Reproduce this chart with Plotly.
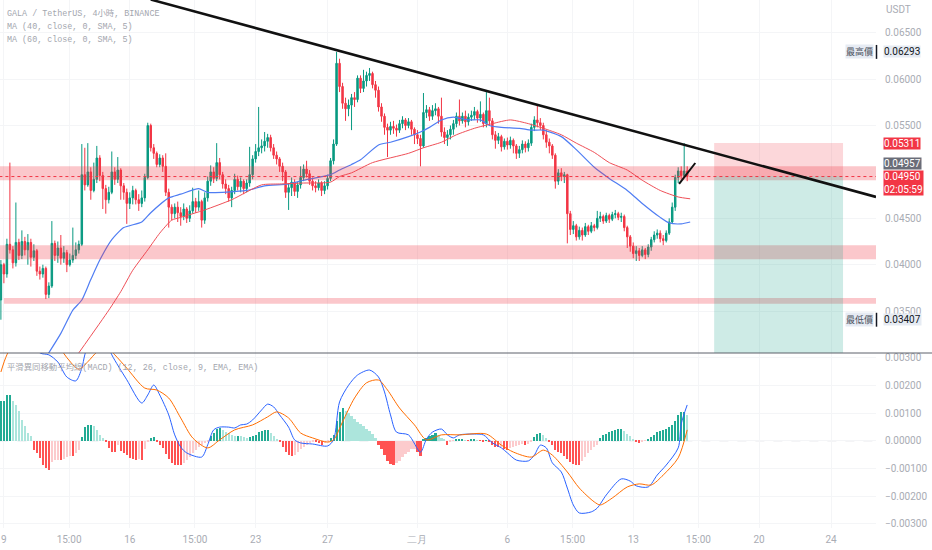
import pandas as pd
import plotly.graph_objects as go
from plotly.subplots import make_subplots

# ---- GALA/USDT 4h candles, Jan 8 20:00 -> Feb 16 00:00 ----
first_open = 0.0362
close = [
    0.0400, 0.0390, 0.0422, 0.0416, 0.0402, 0.0424, 0.0410, 0.0425, 0.0416, 0.0424,
    0.0408, 0.0415, 0.0393, 0.0390, 0.0396, 0.0368, 0.0377, 0.0423, 0.0410, 0.0418,
    0.0407, 0.0413, 0.0400, 0.0405, 0.0410, 0.0416, 0.0422, 0.0497, 0.0486, 0.0500,
    0.0480, 0.0492, 0.0515, 0.0496, 0.0482, 0.0470, 0.0478, 0.0500, 0.0492, 0.0502,
    0.0485, 0.0478, 0.0466, 0.0472, 0.0480, 0.0470, 0.0466, 0.0472, 0.0494, 0.0550,
    0.0526, 0.0520, 0.0508, 0.0515, 0.0506, 0.0478, 0.0462, 0.0455, 0.0462, 0.0456,
    0.0452, 0.0460, 0.0450, 0.0458, 0.0468, 0.0462, 0.0468, 0.0448, 0.0472, 0.0490,
    0.0500, 0.0493, 0.0510, 0.0497, 0.0487, 0.0482, 0.0472, 0.0480, 0.0492, 0.0484,
    0.0490, 0.0482, 0.0488, 0.0497, 0.0514, 0.0522, 0.0526, 0.0528, 0.0533, 0.0537,
    0.0526, 0.0518, 0.0514, 0.0506, 0.0500, 0.0478, 0.0483, 0.0489, 0.0479, 0.0486,
    0.0494, 0.0503, 0.0498, 0.0490, 0.0485, 0.0483, 0.0488, 0.0480, 0.0485, 0.0493,
    0.0512, 0.0530, 0.0617, 0.0592, 0.0574, 0.0568, 0.0572, 0.0580, 0.0578, 0.0601,
    0.0590, 0.0598, 0.0604, 0.0606, 0.0594, 0.0588, 0.0570, 0.0560, 0.0548, 0.0545,
    0.0549, 0.0547, 0.0545, 0.0552, 0.0556, 0.0550, 0.0554, 0.0546, 0.0540, 0.0536,
    0.0528, 0.0564, 0.0567, 0.0560, 0.0566, 0.0568, 0.0560, 0.0543, 0.0537, 0.0540,
    0.0546, 0.0552, 0.0560, 0.0555, 0.0560, 0.0554, 0.0559, 0.0561, 0.0565, 0.0558,
    0.0562, 0.0552, 0.0566, 0.0555, 0.0540, 0.0534, 0.0538, 0.0527, 0.0533, 0.0529,
    0.0534, 0.0528, 0.0520, 0.0524, 0.0530, 0.0526, 0.0531, 0.0548, 0.0556, 0.0553,
    0.0550, 0.0540, 0.0532, 0.0528, 0.0518, 0.0490, 0.0499, 0.0495, 0.0497, 0.0455,
    0.0438, 0.0442, 0.0430, 0.0437, 0.0432, 0.0441, 0.0436, 0.0442, 0.0440, 0.0450,
    0.0452, 0.0447, 0.0453, 0.0449, 0.0454, 0.0455, 0.0451, 0.0452, 0.0440, 0.0430,
    0.0420, 0.0412, 0.0415, 0.0410, 0.0416, 0.0411, 0.0419, 0.0427, 0.0432, 0.0434,
    0.0428, 0.0426, 0.0434, 0.0446, 0.0462, 0.0494, 0.0501, 0.0496, 0.0501, 0.0495,
]
high = [
    0.0405, 0.0402, 0.0428, 0.0510, 0.0420, 0.0467, 0.0428, 0.0437, 0.0430, 0.0433,
    0.0428, 0.0422, 0.0417, 0.0398, 0.0400, 0.0398, 0.0381, 0.0447, 0.0426, 0.0425,
    0.0432, 0.0420, 0.0416, 0.0412, 0.0440, 0.0424, 0.0426, 0.0530, 0.0526, 0.0531,
    0.0505, 0.0510, 0.0528, 0.0518, 0.0500, 0.0486, 0.0484, 0.0522, 0.0505, 0.0516,
    0.0504, 0.0488, 0.0482, 0.0478, 0.0485, 0.0482, 0.0476, 0.0480, 0.0498, 0.0553,
    0.0552, 0.0530, 0.0522, 0.0519, 0.0518, 0.0520, 0.0482, 0.0465, 0.0466, 0.0468,
    0.0462, 0.0466, 0.0462, 0.0464, 0.0483, 0.0472, 0.0480, 0.0470, 0.0478, 0.0495,
    0.0507, 0.0505, 0.0531, 0.0515, 0.0500, 0.0492, 0.0486, 0.0484, 0.0498, 0.0496,
    0.0494, 0.0492, 0.0492, 0.0527, 0.0518, 0.0530, 0.0570, 0.0535, 0.0543, 0.0541,
    0.0540, 0.0530, 0.0522, 0.0516, 0.0510, 0.0502, 0.0488, 0.0494, 0.0492, 0.0489,
    0.0506, 0.0508, 0.0512, 0.0502, 0.0494, 0.0490, 0.0492, 0.0490, 0.0490, 0.0497,
    0.0515, 0.0535, 0.06293, 0.0622, 0.0596, 0.0580, 0.0578, 0.0584, 0.0586, 0.0604,
    0.0604, 0.0610, 0.0608, 0.0612, 0.0608, 0.0598, 0.0592, 0.0574, 0.0563, 0.0552,
    0.0554, 0.0555, 0.0551, 0.0556, 0.0560, 0.0558, 0.0558, 0.0556, 0.0548, 0.0545,
    0.0540, 0.0585, 0.0572, 0.0570, 0.0572, 0.0574, 0.0570, 0.0580, 0.0548, 0.0545,
    0.0550, 0.0556, 0.0564, 0.0578, 0.0564, 0.0566, 0.0563, 0.0566, 0.0570, 0.0567,
    0.0576, 0.0564, 0.0586, 0.0580, 0.0558, 0.0544, 0.0542, 0.0540, 0.0536, 0.0537,
    0.0538, 0.0536, 0.0530, 0.0528, 0.0534, 0.0533, 0.0535, 0.0552, 0.0560, 0.0572,
    0.0558, 0.0553, 0.0545, 0.0536, 0.0530, 0.0520, 0.0503, 0.0504, 0.0500, 0.0498,
    0.0458, 0.0447, 0.0444, 0.0441, 0.0440, 0.0445, 0.0443, 0.0446, 0.0444, 0.0458,
    0.0457, 0.0454, 0.0456, 0.0455, 0.0457, 0.0459, 0.0457, 0.0456, 0.0454, 0.0442,
    0.0432, 0.0424, 0.0420, 0.0418, 0.0420, 0.0418, 0.0422, 0.0430, 0.0436, 0.0438,
    0.0437, 0.0432, 0.0437, 0.0450, 0.0467, 0.0497, 0.0505, 0.0506, 0.0531, 0.0506,
]
low = [
    0.03407, 0.0380, 0.0386, 0.0412, 0.0396, 0.0398, 0.0405, 0.0406, 0.0410, 0.0400,
    0.0398, 0.0404, 0.0388, 0.0384, 0.0386, 0.0363, 0.0364, 0.0375, 0.0404, 0.0402,
    0.0400, 0.0402, 0.0392, 0.0398, 0.0402, 0.0406, 0.0412, 0.0420, 0.0480, 0.0484,
    0.0470, 0.0478, 0.0488, 0.0490, 0.0460, 0.0455, 0.0466, 0.0476, 0.0486, 0.0488,
    0.0470, 0.0470, 0.0444, 0.0460, 0.0465, 0.0465, 0.0458, 0.0462, 0.0468, 0.0492,
    0.0522, 0.0514, 0.0505, 0.0505, 0.0500, 0.0474, 0.0440, 0.0448, 0.0450, 0.0446,
    0.0442, 0.0448, 0.0445, 0.0446, 0.0455, 0.0456, 0.0458, 0.0440, 0.0444, 0.0468,
    0.0485, 0.0488, 0.0490, 0.0492, 0.0482, 0.0476, 0.0468, 0.0462, 0.0476, 0.0480,
    0.0478, 0.0476, 0.0478, 0.0484, 0.0492, 0.0510, 0.0517, 0.0520, 0.0522, 0.0526,
    0.0522, 0.0514, 0.0508, 0.0500, 0.0490, 0.0472, 0.0459, 0.0474, 0.0474, 0.0472,
    0.0482, 0.0490, 0.0494, 0.0486, 0.0480, 0.0478, 0.0480, 0.0474, 0.0476, 0.0481,
    0.0490, 0.0508, 0.0528, 0.0586, 0.0568, 0.0555, 0.0560, 0.0545, 0.0570, 0.0575,
    0.0585, 0.0586, 0.0592, 0.0598, 0.0590, 0.0580, 0.0565, 0.0554, 0.0540, 0.0516,
    0.0540, 0.0541, 0.0538, 0.0542, 0.0547, 0.0545, 0.0547, 0.0540, 0.0530, 0.0530,
    0.0506, 0.0526, 0.0558, 0.0555, 0.0556, 0.0561, 0.0552, 0.0538, 0.0530, 0.0528,
    0.0535, 0.0540, 0.0548, 0.0550, 0.0552, 0.0548, 0.0550, 0.0555, 0.0556, 0.0553,
    0.0554, 0.0548, 0.0548, 0.0550, 0.0535, 0.0525, 0.0530, 0.0522, 0.0524, 0.0524,
    0.0525, 0.0520, 0.0514, 0.0515, 0.0520, 0.0521, 0.0522, 0.0528, 0.0544, 0.0548,
    0.0545, 0.0535, 0.0526, 0.0520, 0.0514, 0.0482, 0.0486, 0.0490, 0.0488, 0.0423,
    0.0432, 0.0433, 0.0426, 0.0427, 0.0426, 0.0430, 0.0432, 0.0434, 0.0436, 0.0438,
    0.0446, 0.0444, 0.0445, 0.0445, 0.0447, 0.0450, 0.0448, 0.0446, 0.0436, 0.0418,
    0.0414, 0.0407, 0.0404, 0.0404, 0.0408, 0.0406, 0.0408, 0.0415, 0.0424, 0.0428,
    0.0424, 0.0421, 0.0424, 0.0432, 0.0444, 0.0458, 0.0488, 0.0492, 0.0494, 0.0490,
]

# moving averages, sampled along the chart (candle index, value)
ma40_idx = [15, 20, 24, 27, 30, 33, 37, 41, 47, 50, 56, 60, 66, 69, 82, 88, 96, 101, 110, 113,
            117, 120, 126, 130, 136, 140, 143, 147, 151, 156, 160, 163, 167, 173, 177, 181,
            187, 192, 198, 203, 209, 214, 220, 223, 227, 230]
ma40_val = [0.0300, 0.0326, 0.0351, 0.0362, 0.0384, 0.0405, 0.0427, 0.0440, 0.0446, 0.0456,
            0.0472, 0.0476, 0.0482, 0.0478, 0.0480, 0.0485, 0.0487, 0.0491, 0.0497, 0.0502,
            0.0508, 0.0513, 0.0529, 0.0532, 0.0538, 0.0543, 0.0548, 0.0556, 0.0559, 0.0556,
            0.0556, 0.0550, 0.0548, 0.0547, 0.0545, 0.0545, 0.0538, 0.0524, 0.0505, 0.0493,
            0.0480, 0.0466, 0.0451, 0.0445, 0.0444, 0.0446]
ma60_idx = [26, 36, 40, 44, 49, 53, 57, 60, 68, 77, 87, 93, 101, 110, 113, 117, 124, 136,
            141, 147, 152, 158, 164, 170, 176, 181, 187, 192, 198, 203, 209, 214, 220, 226, 230]
ma60_val = [0.0305, 0.0351, 0.0371, 0.0394, 0.0416, 0.0434, 0.0448, 0.0451, 0.0459, 0.0470,
            0.0486, 0.0487, 0.0488, 0.0489, 0.0495, 0.0499, 0.0510, 0.0520, 0.0526, 0.0532,
            0.0540, 0.0547, 0.0552, 0.0556, 0.0552, 0.0547, 0.0540, 0.0531, 0.0521, 0.0510,
            0.0502, 0.0491, 0.0480, 0.0473, 0.0471]

# MACD (12, 26, 9) histogram per candle
macd_hist = [
    0.00142, 0.00142, 0.00166, 0.00166, 0.00142, 0.00130, 0.00106, 0.00076, 0.00052, 0.00028,
    0.00016, -0.00032, -0.00045, -0.00063, -0.00087, -0.00099, -0.00105, -0.00077, -0.00070, -0.00069,
    -0.00069, -0.00066, -0.00060, -0.00057, -0.00057, -0.00045, -0.00032, 0.00012, 0.00048, 0.00055,
    0.00058, 0.00052, 0.00040, 0.00022, 0.00010, -0.00005, -0.00026, -0.00039, -0.00039, -0.00017,
    -0.00036, -0.00045, -0.00051, -0.00063, -0.00065, -0.00069, -0.00066, -0.00069, -0.00030, -0.00002,
    0.00010, 0.00012, -0.00005, -0.00014, -0.00026, -0.00048, -0.00065, -0.00081, -0.00087, -0.00087,
    -0.00087, -0.00082, -0.00070, -0.00058, -0.00046, -0.00034, -0.00024, -0.00017, -0.00010, -0.00002,
    0.00016, 0.00028, 0.00043, 0.00046, 0.00039, 0.00031, 0.00026, 0.00022, 0.00018, 0.00018,
    0.00016, 0.00012, 0.00010, 0.00012, 0.00016, 0.00022, 0.00031, 0.00036, 0.00039, 0.00039,
    0.00028, 0.00017, 0.00007, -0.00005, -0.00022, -0.00039, -0.00051, -0.00057, -0.00053, -0.00041,
    -0.00031, -0.00022, -0.00014, -0.00008, -0.00005, -0.00006, -0.00010, -0.00014, -0.00010, -0.00005,
    0.00010, 0.00022, 0.00070, 0.00103, 0.00118, 0.00106, 0.00100, 0.00088, 0.00078, 0.00067,
    0.00060, 0.00052, 0.00043, 0.00034, 0.00024, 0.00010, -0.00014, -0.00029, -0.00051, -0.00075,
    -0.00084, -0.00089, -0.00082, -0.00072, -0.00060, -0.00048, -0.00039, -0.00030, -0.00029, -0.00041,
    -0.00057, 0.00003, 0.00010, 0.00017, 0.00022, 0.00026, 0.00022, 0.00010, 0.00004, -0.00014,
    -0.00005, -0.00001, 0.00004, 0.00007, 0.00007, 0.00002, -0.00001, 0.00007, 0.00007, 0.00002,
    -0.00001, -0.00005, 0.00001, -0.00005, -0.00017, -0.00023, -0.00024, -0.00022, -0.00029, -0.00032,
    -0.00026, -0.00024, -0.00020, -0.00017, -0.00012, -0.00014, -0.00012, -0.00005, 0.00012, 0.00024,
    0.00028, 0.00022, 0.00010, -0.00005, -0.00014, -0.00032, -0.00039, -0.00045, -0.00054, -0.00066,
    -0.00077, -0.00084, -0.00087, -0.00087, -0.00075, -0.00058, -0.00046, -0.00035, -0.00024, -0.00014,
    0.00010, 0.00020, 0.00025, 0.00030, 0.00036, 0.00040, 0.00042, 0.00043, 0.00034, 0.00024,
    0.00016, 0.00005, -0.00005, -0.00007, -0.00005, -0.00001, 0.00007, 0.00012, 0.00019, 0.00031,
    0.00036, 0.00040, 0.00043, 0.00048, 0.00055, 0.00072, 0.00091, 0.00103, 0.00103, 0.00094,
]
macd_idx = [0, 7, 13, 16, 19, 22, 25, 27, 28, 30, 35, 37, 42, 47, 49, 51, 53, 56, 58, 60,
            62, 67, 69, 71, 73, 76, 78, 80, 82, 84, 87, 89, 91, 93, 96, 98, 100, 104, 109, 111,
            113, 116, 119, 123, 126, 128, 130, 132, 136, 140, 142, 144, 147, 149, 151, 153, 158,
            161, 164, 167, 169, 172, 176, 178, 180, 182, 184, 187, 189, 191, 193, 197, 199, 202,
            207, 210, 212, 216, 219, 222, 226, 227, 229]
macd_val = [0.0045, 0.0040, 0.00317, 0.0031, 0.00284, 0.0023, 0.00216, 0.00262, 0.0031, 0.0037,
            0.0036, 0.0031, 0.0022, 0.00136, 0.00165, 0.00201, 0.00165, 0.00093, 0.00021, -0.00023,
            -0.00044, -0.00059, -0.00015, 0.00039, 0.00049, 0.00049, 0.00046, 0.00057, 0.00060, 0.00075,
            0.00111, 0.00132, 0.00122, 0.00093, 0.00049, 0.00003, -0.00008, -0.00012, -0.00019, 0.00003,
            0.00140, 0.00200, 0.00237, 0.00255, 0.00230, 0.00176, 0.00093, 0.00031, 0.00021, -0.00041,
            0.00006, 0.00031, 0.00042, 0.00021, 0.00010, 0.00021, 0.00024, 0.00021, -0.00008, -0.00026,
            -0.00044, -0.00070, -0.00073, -0.00052, -0.00016, -0.00026, -0.00080, -0.00113, -0.00171,
            -0.00232, -0.00261, -0.00257, -0.00243, -0.00196, -0.00138, -0.00146, -0.00163, -0.00167,
            -0.00124, -0.00088, -0.00026, 0.00060, 0.00129]
signal_idx = [0, 2, 5, 12, 18, 22, 26, 29, 32, 35, 38, 42, 48, 52, 56, 60, 64, 69, 73, 78,
              84, 89, 92, 96, 100, 104, 109, 111, 114, 118, 122, 126, 129, 133, 138, 142, 147,
              153, 162, 167, 171, 177, 181, 184, 189, 193, 198, 200, 204, 209, 213, 217, 221,
              226, 229]
signal_val = [0.00248, 0.0031, 0.0036, 0.0040, 0.0036, 0.0030, 0.00258, 0.00285, 0.0032, 0.0034,
              0.0031, 0.00262, 0.0019, 0.00183, 0.00154, 0.00082, 0.0001, -0.00026, 0.00003, 0.00039,
              0.00057, 0.00086, 0.00104, 0.00082, 0.00028, 0.0001, -0.00005, 0.00003, 0.00068, 0.00154,
              0.00209, 0.00219, 0.00183, 0.00118, 0.00057, 0.00003, 0.00021, 0.00021, 0.00024, -0.00016,
              -0.00041, -0.00059, -0.00034, -0.00052, -0.00113, -0.00171, -0.00221, -0.00232, -0.00207,
              -0.00167, -0.00156, -0.0016, -0.00124, -0.00062, 0.00039]

# drawn levels / tools
sr_bands = [(0.0491, 0.0506), (0.0406, 0.0421), (0.0358, 0.0364)]
last_price = 0.04950
entry, stop = 0.04957, 0.05311
all_high, all_low = 0.06293, 0.03407

x_ticks = ["2023-01-09", "2023-01-12 15:00", "2023-01-16", "2023-01-19 15:00", "2023-01-23",
           "2023-01-27", "2023-02-01", "2023-02-06", "2023-02-09 15:00", "2023-02-13",
           "2023-02-16 15:00", "2023-02-20", "2023-02-24"]
x_labels = ["9", "15:00", "16", "15:00", "23", "27", "二月", "6", "15:00", "13", "15:00", "20", "24"]
price_ticks = [0.065, 0.060, 0.055, 0.045, 0.040, 0.035]
macd_ticks = [0.003, 0.002, 0.001, 0.0, -0.001, -0.002, -0.003]

UP, DOWN = "#089981", "#f23645"
AXC = "#a9acb4"
LEG = "#a3a6ae"

t0 = pd.Timestamp("2023-01-08 20:00")


def at(i):
    return t0 + pd.Timedelta(hours=4 * i)


times = [at(i) for i in range(len(close))]
opens = [first_open] + close[:-1]

PW, PH = 876, 528  # plot area px
top_h = 353


def px(x):
    return x / PW


def py(y):
    return 1 - y / PH


def price_at(y):
    # price-pane pixel row -> price
    return 0.065 - (y - 32.7) / 9280


fig = make_subplots(rows=2, cols=1, shared_xaxes=True, vertical_spacing=0,
                    row_heights=[top_h / PH, (PH - top_h) / PH])

fig.add_trace(go.Candlestick(
    x=times, open=opens, high=high, low=low, close=close,
    increasing=dict(line=dict(color=UP, width=1), fillcolor=UP),
    decreasing=dict(line=dict(color=DOWN, width=1), fillcolor=DOWN),
    whiskerwidth=0, showlegend=False, hoverinfo="skip"), row=1, col=1)

fig.add_trace(go.Scatter(x=[at(i) for i in ma40_idx], y=ma40_val, mode="lines",
                         line=dict(color="#4f7df3", width=1.2, shape="spline", smoothing=0.6),
                         hoverinfo="skip"), row=1, col=1)
fig.add_trace(go.Scatter(x=[at(i) for i in ma60_idx], y=ma60_val, mode="lines",
                         line=dict(color="#ef4f57", width=1, shape="spline", smoothing=0.6),
                         hoverinfo="skip"), row=1, col=1)

# histogram colours follow TradingView's rising/falling scheme
hist_colors = []
prev = 0
for h in macd_hist:
    if h >= 0:
        hist_colors.append("#22ab94" if h >= prev else "#ace5dc")
    else:
        hist_colors.append("#fccbcd" if h > prev else "#ff5252")
    prev = h

fig.add_trace(go.Bar(x=times, y=macd_hist, marker_color=hist_colors, marker_line_width=0,
                     width=4 * 3600 * 1000 * 0.7, hoverinfo="skip"), row=2, col=1)
fig.add_trace(go.Scatter(x=[at(i) for i in macd_idx], y=macd_val, mode="lines",
                         line=dict(color="#2962ff", width=1, shape="spline", smoothing=0.8),
                         hoverinfo="skip"), row=2, col=1)
fig.add_trace(go.Scatter(x=[at(i) for i in signal_idx], y=signal_val, mode="lines",
                         line=dict(color="#ff6d00", width=1, shape="spline", smoothing=0.8),
                         hoverinfo="skip"), row=2, col=1)

# support / resistance bands
for k, (lo, hi) in enumerate(sr_bands):
    fig.add_shape(type="rect", xref="x", yref="y", x0=at(1 if k == 2 else -0.5), x1=at(292.5),
                  y0=lo, y1=hi, fillcolor="rgba(242,54,69,0.28)", line_width=0, layer="above")

# short position tool
fig.add_shape(type="rect", xref="x", yref="y", x0=at(238), x1=at(281), y0=entry, y1=stop,
              fillcolor="rgba(242,54,69,0.2)", line_width=0)
fig.add_shape(type="rect", xref="x", yref="y", x0=at(238), x1=at(281), y0=0.0290, y1=entry,
              fillcolor="rgba(8,153,129,0.2)", line_width=0)

# last price line
fig.add_shape(type="line", xref="x", yref="y", x0=at(-0.5), x1=at(292.5), y0=last_price, y1=last_price,
              line=dict(color="#f23645", width=1, dash="dot"))

# trend lines
fig.add_shape(type="line", xref="x", yref="y", x0=at(50), y0=0.06857, x1=at(292), y1=0.0473,
              line=dict(color="#111111", width=2.6))
fig.add_shape(type="line", xref="x", yref="y", x0=at(226.3), y0=0.0487, x1=at(231.7), y1=0.05096,
              line=dict(color="#111111", width=2))

# pane separator and MACD zero line
fig.add_shape(type="line", xref="paper", yref="paper", x0=0, x1=932 / PW, y0=py(top_h), y1=py(top_h),
              line=dict(color="#5d606b", width=1))
fig.add_shape(type="line", xref="x2", yref="y2", x0=at(-0.5), x1=at(292.5), y0=0, y1=0,
              line=dict(color="#c3c6cc", width=1, dash="dash"), layer="below")

# legend texts
mono = dict(family="Liberation Mono, Noto Sans CJK TC", size=8.4, color=LEG)
for y, txt in [(13, "GALA / TetherUS, 4小時, BINANCE"),
               (27, "MA (40, close, 0, SMA, 5)"),
               (40, "MA (60, close, 0, SMA, 5)"),
               (367, "平滑異同移動平均線(MACD) (12, 26, close, 9, EMA, EMA)")]:
    fig.add_annotation(xref="paper", yref="paper", x=px(5), y=py(y), text=txt, showarrow=False,
                       xanchor="left", yanchor="middle", font=mono)

fig.add_annotation(xref="paper", yref="paper", x=px(884), y=py(10), text="USDT", showarrow=False,
                   xanchor="left", yanchor="middle", font=dict(family="Roboto", size=10, color=AXC))


def price_tag(y, text, bg, fg, yanchor="middle"):
    fig.add_annotation(xref="paper", yref="y", x=px(883), y=y, text=text, showarrow=False,
                       xanchor="left", yanchor=yanchor, bgcolor=bg, borderpad=0, align="left",
                       font=dict(family="Roboto", size=10, color=fg))


price_tag(all_high, "0.06293", "#e6ebf3", "#131722")
price_tag(all_low, "0.03407", "#e6ebf3", "#131722")
price_tag(stop, "0.05311", "#f23645", "white")
# the axis stacks these two tags so they don't cover each other
price_tag(price_at(163.5), "0.04957", "#6a6d78", "white")
price_tag(price_at(170), "0.04950<br>02:05:59", "#f23645", "white", yanchor="top")

for v, txt in [(all_high, "最高價"), (all_low, "最低價")]:
    fig.add_annotation(xref="paper", yref="y", x=px(874), y=v, text=txt, showarrow=False,
                       xanchor="right", yanchor="middle", bgcolor="#e6ebf3", borderpad=0,
                       font=dict(family="Noto Sans CJK TC", size=9, color="#4c525e"))
    fig.add_shape(type="line", xref="paper", yref="y", x0=px(876.5), x1=px(876.5),
                  y0=v - 0.00075, y1=v + 0.00075, line=dict(color="#131722", width=1.5))

fig.update_layout(
    width=932, height=550, margin=dict(l=0, r=56, t=0, b=22),
    paper_bgcolor="white", plot_bgcolor="white", showlegend=False, bargap=0,
    font=dict(family="Roboto", size=10, color=AXC),
)
fig.update_xaxes(range=[at(-0.3), at(292)], rangeslider_visible=False, showgrid=True,
                 gridcolor="#f4f5f7", zeroline=False, showline=False, ticks="",
                 tickvals=x_ticks, ticktext=x_labels, tickfont=dict(family="Roboto", size=10, color=AXC))
fig.update_xaxes(showticklabels=False, row=1, col=1)
fig.update_xaxes(showticklabels=True, ticklabelstandoff=4, row=2, col=1)
fig.update_yaxes(side="right", showgrid=True, gridcolor="#f4f5f7", zeroline=False, showline=False,
                 ticks="", ticklabelstandoff=8, tickfont=dict(family="Roboto", size=10, color=AXC))
fig.update_yaxes(range=[0.030485, 0.068524], tickvals=price_ticks,
                 ticktext=[f"{v:.5f}" for v in price_ticks], row=1, col=1)
fig.update_yaxes(range=[-0.003152, 0.003166], tickvals=macd_ticks,
                 ticktext=[f"{v:.5f}".replace("-", "−") for v in macd_ticks], row=2, col=1)

# page body has a default 8px margin; drop it so the chart sits at the window origin
fig.write_html("out.html", config={"displayModeBar": False},
               post_script="document.body.style.margin='0';")
